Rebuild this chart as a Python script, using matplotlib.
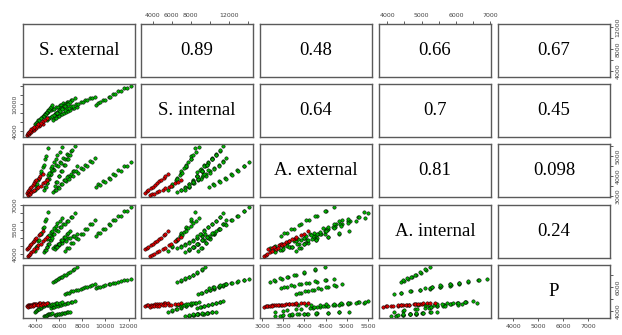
import matplotlib
matplotlib.use('Agg')
import matplotlib.pyplot as plt

# variable names on the diagonal
names = ['S. external', 'S. internal', 'A. external', 'A. internal', 'P']

# correlation labels, upper triangle, row by row
corr_text = ['0.89', '0.48', '0.66', '0.67',
             '0.64', '0.7', '0.45',
             '0.81', '0.098',
             '0.24']

# first 24 rows are the red group, the rest green
n_red = 24

s_ext = [3250, 3340, 3390, 3500, 3580, 3720, 3800, 3960, 4050, 4230, 4370, 4600,
         3300, 3370, 3520, 3600, 3770, 3880, 4070, 4180, 4420, 4580, 4830, 5000,
         5500, 5640, 5730, 5900, 5980, 6170, 6280, 6470, 6580, 6800, 6930, 7170, 7330, 7550,
         6500, 6700, 6830, 7070, 7230, 7470, 7630, 7870, 8030, 8270, 8430, 8680, 8850, 9100,
         9150, 9380, 9570, 9830, 9970, 10280, 10420, 10680, 10870, 11130, 11320, 11630, 11870, 12200,
         5300, 5470, 5580, 5770, 5880, 6070, 6180, 6370, 6480, 6670, 6780, 7000, 7160, 7400,
         3900, 4020, 4080, 4220, 4280, 4420, 4480, 4620, 4680, 4820, 4900, 5050,
         4700, 4780, 4840, 4930, 4990, 5080, 5140, 5230, 5290, 5400,
         5650, 5770, 5830, 5970, 6030, 6170, 6230, 6400, 6480, 6670, 6780, 6950,
         4950, 5080, 5150, 5300, 5420, 5550, 5700, 5850, 6050, 6300]

s_int = [3200, 3380, 3520, 3820, 3980, 4230, 4420, 4680, 4870, 5130, 5320, 5600,
         3700, 3920, 4120, 4480, 4680, 5030, 5270, 5680, 5920, 6330, 6620, 7000,
         6600, 6930, 6920, 7380, 7370, 7780, 7770, 8180, 8220, 8630, 8670, 9130, 9170, 9500,
         8800, 9130, 9120, 9580, 9560, 10030, 10010, 10480, 10460, 10930, 10910, 11380, 11360, 11700,
         9900, 10340, 10430, 10990, 11030, 11590, 11680, 12240, 12280, 12890, 12930, 13540, 13630, 14100,
         8700, 9030, 9000, 9430, 9400, 9830, 9800, 10230, 10200, 10630, 10600, 11030, 11060, 11400,
         5600, 5980, 6000, 6480, 6500, 6980, 7000, 7480, 7500, 7980, 8000, 8400,
         7400, 7780, 7800, 8280, 8300, 8780, 8800, 9280, 9350, 9800,
         7800, 8180, 8200, 8680, 8700, 9180, 9200, 9680, 9700, 10180, 10200, 10600,
         6600, 6900, 7050, 7300, 7500, 7750, 8000, 8200, 8500, 8900]

a_ext = [3150, 3240, 3290, 3390, 3440, 3570, 3630, 3750, 3800, 3910, 3980, 4080,
         3050, 3090, 3110, 3200, 3240, 3320, 3380, 3460, 3520, 3630, 3700, 3800,
         3200, 3310, 3280, 3460, 3420, 3620, 3590, 3800, 3760, 3990, 3980, 4250, 4260, 4480,
         3800, 3930, 3870, 4080, 4010, 4230, 4170, 4390, 4330, 4560, 4500, 4740, 4710, 4900,
         3450, 3590, 3530, 3750, 3690, 3920, 3870, 4100, 4050, 4290, 4250, 4500, 4490, 4700,
         4200, 4360, 4310, 4540, 4490, 4720, 4670, 4900, 4850, 5080, 5030, 5270, 5280, 5500,
         3300, 3490, 3590, 3810, 3910, 4130, 4230, 4450, 4570, 4830, 5020, 5400,
         3300, 3470, 3430, 3670, 3630, 3870, 3830, 4070, 4080, 4300,
         3500, 3710, 3710, 3990, 3990, 4270, 4270, 4550, 4550, 4830, 4830, 5050,
         3850, 4050, 4150, 4380, 4500, 4700, 4860, 5030, 5220, 5440]

a_int = [4300, 4400, 4450, 4580, 4640, 4770, 4830, 4950, 5020, 5170, 5250, 5400,
         3880, 3950, 4000, 4120, 4180, 4320, 4400, 4560, 4630, 4810, 4900, 5050,
         4400, 4490, 4460, 4610, 4570, 4730, 4690, 4850, 4820, 4990, 4960, 5130, 5110, 5250,
         4200, 4400, 4400, 4680, 4660, 4960, 4940, 5250, 5230, 5540, 5530, 5840, 5850, 6100,
         5100, 5300, 5290, 5560, 5550, 5830, 5820, 6090, 6080, 6360, 6360, 6650, 6670, 6900,
         5100, 5260, 5240, 5460, 5440, 5660, 5640, 5860, 5840, 6060, 6040, 6260, 6290, 6500,
         4200, 4450, 4500, 4820, 4880, 5220, 5280, 5620, 5680, 6050, 6180, 6600,
         4100, 4250, 4250, 4450, 4450, 4650, 4650, 4850, 4850, 5000,
         4300, 4450, 4450, 4650, 4650, 4850, 4850, 5050, 5050, 5250, 5270, 5450,
         4900, 5100, 5150, 5350, 5450, 5600, 5750, 5900, 6050, 6250]

p = [4420, 4450, 4460, 4490, 4500, 4540, 4550, 4590, 4600, 4650, 4660, 4700,
     4350, 4370, 4370, 4410, 4400, 4450, 4450, 4500, 4510, 4570, 4590, 4650,
     6450, 6550, 6580, 6700, 6730, 6840, 6880, 7000, 7050, 7190, 7260, 7420, 7530, 7700,
     5450, 5520, 5540, 5640, 5660, 5760, 5780, 5880, 5900, 6000, 6030, 6130, 6160, 6250,
     5950, 6020, 6040, 6130, 6150, 6240, 6260, 6350, 6370, 6460, 6480, 6580, 6610, 6700,
     4250, 4300, 4320, 4390, 4410, 4470, 4490, 4550, 4570, 4640, 4660, 4740, 4770, 4840,
     3920, 3990, 4030, 4120, 4160, 4240, 4290, 4370, 4420, 4510, 4560, 4650,
     3560, 3590, 3600, 3640, 3650, 3690, 3700, 3740, 3760, 3820,
     3650, 3680, 3690, 3730, 3740, 3770, 3780, 3810, 3820, 3860, 3860, 3900,
     4450, 4470, 4520, 4530, 4560, 4580, 4620, 4640, 4680, 4720]

cols = [s_ext, s_int, a_ext, a_int, p]

# axis ticks for each variable, and which of them get a label (per side)
ticks = [list(range(4000, 12001, 2000)),
         list(range(4000, 14001, 2000)),
         list(range(3000, 5501, 500)),
         list(range(4000, 7001, 500)),
         list(range(4000, 7001, 1000))]
lab_x = {0: [4000, 6000, 8000, 10000, 12000],
         1: [4000, 6000, 8000, 12000],
         2: [3000, 3500, 4000, 4500, 5000, 5500],
         3: [4000, 5000, 6000, 7000],
         4: [4000, 5000, 6000, 7000]}
lab_y = {0: [4000, 8000, 12000],
         1: [4000, 10000],
         2: [3000, 4000, 5000],
         3: [4000, 5500, 7000],
         4: [4000, 6000]}

W, H = 622, 335
lefts = [23, 141, 260, 379, 498]
tops = [24, 84, 144, 205, 265]
pw, ph = 112, 53

fig = plt.figure(figsize=(W / 100, H / 100), dpi=100)

lims = []
for v in cols:
    lo, hi = min(v), max(v)
    pad = 0.04 * (hi - lo)
    lims.append((lo - pad, hi + pad))

tick_col = '#444444'
frame_col = '#5a5a5a'
serif = ['Liberation Serif', 'DejaVu Serif']

k = 0
for i in range(5):
    for j in range(5):
        ax = fig.add_axes([lefts[j] / W, 1 - (tops[i] + ph) / H, pw / W, ph / H])
        ax.set_xlim(lims[j])
        ax.set_ylim(lims[i])
        for s in ax.spines.values():
            s.set_color(frame_col)
            s.set_linewidth(1.0)
        ax.set_xticks([])
        ax.set_yticks([])

        if i == j:
            ax.text(0.5, 0.5, names[i], transform=ax.transAxes, ha='center', va='center',
                    fontsize=13.5, family=serif)
        elif i < j:
            ax.text(0.5, 0.5, corr_text[k], transform=ax.transAxes, ha='center', va='center',
                    fontsize=13.5, family=serif)
            k += 1
        else:
            xg, yg = cols[j][n_red:], cols[i][n_red:]
            xr, yr = cols[j][:n_red], cols[i][:n_red]
            ax.scatter(xg, yg, s=6, c='#00b000', edgecolors='black', linewidths=0.35, zorder=2)
            ax.scatter(xr, yr, s=6, c='#dd0000', edgecolors='black', linewidths=0.35, zorder=3)

        # outer axes, alternating sides like R's pairs()
        if i == 0 and j % 2 == 1:
            ax.xaxis.set_ticks_position('top')
            ax.set_xticks(ticks[j])
            ax.set_xticklabels([str(t) if t in lab_x[j] else '' for t in ticks[j]])
        if i == 4 and j % 2 == 0:
            ax.set_xticks(ticks[j])
            ax.set_xticklabels([str(t) if t in lab_x[j] else '' for t in ticks[j]])
        if j == 0 and i % 2 == 1:
            ax.set_yticks(ticks[i])
            ax.set_yticklabels([str(t) if t in lab_y[i] else '' for t in ticks[i]],
                               rotation=90, va='center')
        if j == 4 and i % 2 == 0:
            ax.yaxis.set_ticks_position('right')
            ax.set_yticks(ticks[i])
            ax.set_yticklabels([str(t) if t in lab_y[i] else '' for t in ticks[i]],
                               rotation=90, va='center')
        ax.tick_params(length=2.5, width=0.6, color=tick_col, labelcolor=tick_col,
                       labelsize=4.5, pad=1.5)

fig.savefig('out.png', dpi=100)
